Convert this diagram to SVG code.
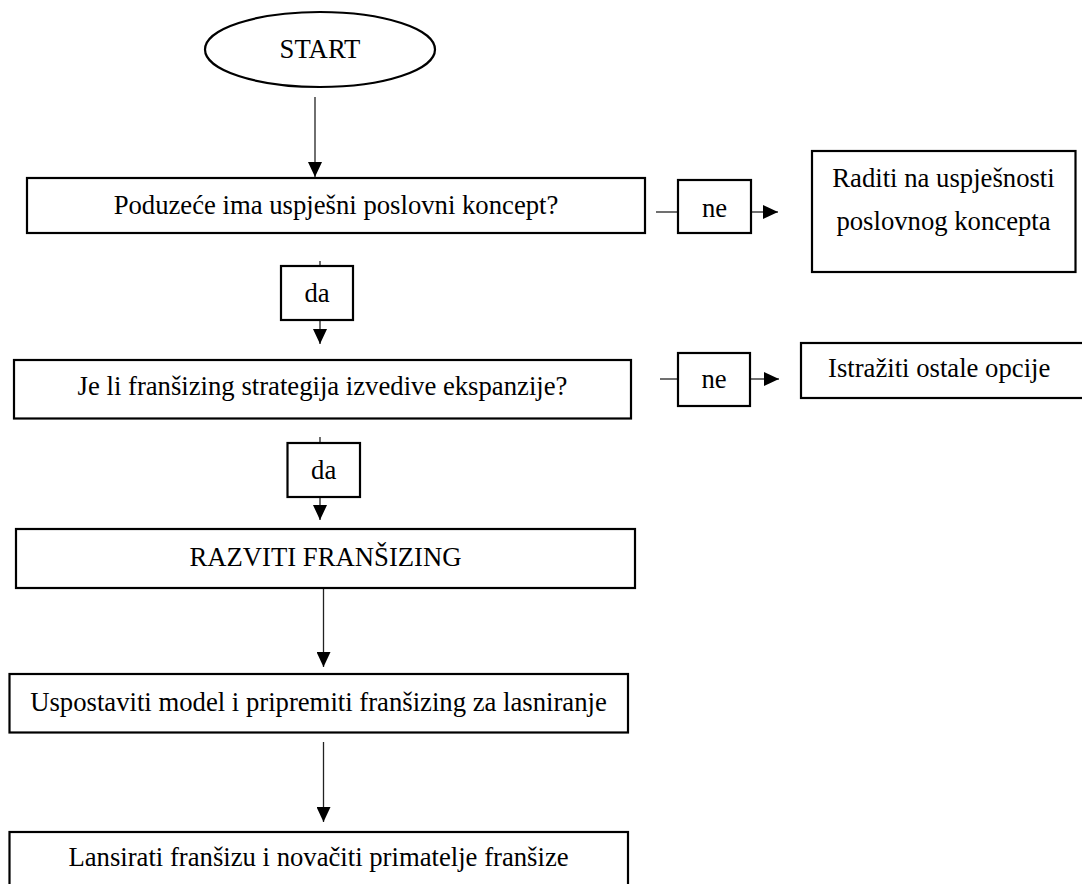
<svg xmlns="http://www.w3.org/2000/svg" width="1082" height="884" viewBox="0 0 1082 884">
<style>
.box{fill:#fff;stroke:#000;stroke-width:2.2}
.t{font-family:"Liberation Serif","Times New Roman",serif;font-size:26.7px;fill:#000}
.c{text-anchor:middle}
.ln{stroke:#222;stroke-width:1.3;fill:none}
</style>
<defs>
<marker id="ah" viewBox="0 0 15 14" markerWidth="15" markerHeight="14" refX="15" refY="7" orient="auto" markerUnits="userSpaceOnUse">
<path d="M0,0 L15,7 L0,14 z" fill="#000"/>
</marker>
</defs>
<rect width="1082" height="884" fill="#fff"/>
<g id="connectors">
<line class="ln" x1="315" y1="97" x2="315" y2="177" marker-end="url(#ah)"/>
<line class="ln" x1="656" y1="212" x2="678" y2="212"/>
<line class="ln" x1="751" y1="212" x2="778" y2="212" marker-end="url(#ah)"/>
<line class="ln" x1="320" y1="261" x2="320" y2="266"/>
<line class="ln" x1="320" y1="320" x2="320" y2="344" marker-end="url(#ah)"/>
<line class="ln" x1="660" y1="379" x2="678" y2="379"/>
<line class="ln" x1="750" y1="379" x2="779" y2="379" marker-end="url(#ah)"/>
<line class="ln" x1="320" y1="437" x2="320" y2="443"/>
<line class="ln" x1="320" y1="497" x2="320" y2="520" marker-end="url(#ah)"/>
<line class="ln" x1="323.5" y1="588" x2="323.5" y2="667" marker-end="url(#ah)"/>
<line class="ln" x1="323.5" y1="742" x2="323.5" y2="822" marker-end="url(#ah)"/>
</g>
<g id="start">
<ellipse cx="320" cy="49.5" rx="115" ry="37.5" fill="#fff" stroke="#000" stroke-width="2.2"/>
<text class="t c" x="320" y="58">START</text>
</g>
<g id="q1">
<rect class="box" x="27" y="178" width="618" height="55"/>
<text class="t c" x="336" y="214">Poduzeće ima uspješni poslovni koncept?</text>
</g>
<g id="ne1">
<rect class="box" x="678" y="180" width="73" height="53"/>
<text class="t c" x="714.5" y="217">ne</text>
</g>
<g id="raditi">
<rect class="box" x="812" y="151" width="263.5" height="121"/>
<text class="t c" x="943.5" y="187">Raditi na uspješnosti</text>
<text class="t c" x="943.5" y="230">poslovnog koncepta</text>
</g>
<g id="da1">
<rect class="box" x="281" y="266" width="72" height="54"/>
<text class="t c" x="317" y="302">da</text>
</g>
<g id="q2">
<rect class="box" x="14" y="360" width="617" height="58.5"/>
<text class="t c" x="322.5" y="395">Je li franšizing strategija izvedive ekspanzije?</text>
</g>
<g id="ne2">
<rect class="box" x="678" y="353" width="72" height="53"/>
<text class="t c" x="714" y="388">ne</text>
</g>
<g id="istraziti">
<rect class="box" x="801" y="343" width="300" height="55"/>
<text class="t" x="828" y="377">Istražiti ostale opcije</text>
</g>
<g id="da2">
<rect class="box" x="287.5" y="443" width="72.5" height="54"/>
<text class="t c" x="323.7" y="479">da</text>
</g>
<g id="razviti">
<rect class="box" x="16" y="529" width="619" height="59"/>
<text class="t c" x="325.5" y="566">RAZVITI FRANŠIZING</text>
</g>
<g id="uspostaviti">
<rect class="box" x="9.5" y="674" width="618.5" height="58.5"/>
<text class="t c" x="318.5" y="711">Uspostaviti model i pripremiti franšizing za lasniranje</text>
</g>
<g id="lansirati">
<rect class="box" x="9.5" y="832" width="618.5" height="60"/>
<text class="t c" x="318.5" y="866">Lansirati franšizu i novačiti primatelje franšize</text>
</g>
</svg>
